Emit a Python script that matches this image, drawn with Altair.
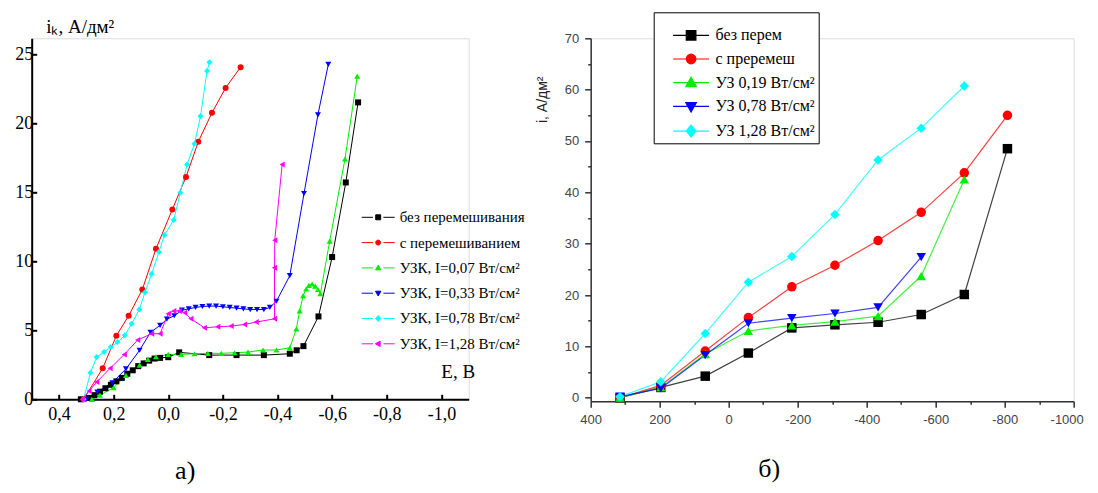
import altair as alt
import pandas as pd

SERIF = "'Liberation Serif', 'Times New Roman', serif"
SANS = "'Liberation Sans', Arial, sans-serif"

# ---------------- panel а) ----------------
L_NAMES = ["без перемешивания", "с перемешиванием", "УЗК, I=0,07 Вт/см²",
           "УЗК, I=0,33 Вт/см²", "УЗК, I=0,78 Вт/см²", "УЗК, I=1,28 Вт/см²"]
L_COLORS = ["#000000", "#ff0000", "#00ee00", "#0000ff", "#00ffff", "#ff00ff"]
L_SHAPES = ["square", "circle", "triangle-up", "triangle-down", "diamond", "triangle-left"]

a_black_x = [0.32, 0.29, 0.27, 0.25, 0.23, 0.21, 0.19, 0.17, 0.15, 0.13, 0.11, 0.09, 0.07,
             0.05, 0.03, 0.00, -0.04, -0.15, -0.25, -0.35, -0.445, -0.47, -0.495, -0.55,
             -0.60, -0.65, -0.695]
a_black_y = [0.0, 0.1, 0.3, 0.55, 0.8, 1.05, 1.3, 1.55, 1.85, 2.1, 2.4, 2.6, 2.8,
             2.95, 3.0, 3.05, 3.4, 3.2, 3.2, 3.2, 3.3, 3.55, 3.85, 6.0,
             10.3, 15.7, 21.5]

a_red_x = [0.31, 0.24, 0.19, 0.145, 0.095, 0.045, -0.015, -0.065, -0.11, -0.16, -0.21, -0.265]
a_red_y = [0.0, 2.25, 4.6, 6.05, 7.95, 10.9, 13.75, 16.1, 18.65, 20.75, 22.55, 24.05]

a_green_x = [0.28, 0.25, 0.20, 0.155, 0.105, 0.075, 0.045, 0.0, -0.047, -0.096, -0.145, -0.194,
             -0.243, -0.292, -0.347, -0.396, -0.445, -0.469, -0.481, -0.494, -0.505, -0.515,
             -0.527, -0.538, -0.548, -0.557, -0.591, -0.647, -0.692]
a_green_y = [0.0, 0.3, 0.84, 1.73, 2.48, 2.89, 3.08, 3.25, 3.25, 3.3, 3.33, 3.33,
             3.37, 3.42, 3.57, 3.57, 3.73, 5.1, 6.4, 7.5, 8.0, 8.25,
             8.35, 8.2, 7.95, 7.65, 11.45, 17.4, 23.4]

a_blue_x = [0.30, 0.26, 0.205, 0.155, 0.105, 0.065, 0.03, 0.005, -0.022, -0.05, -0.075, -0.10,
            -0.125, -0.15, -0.175, -0.20, -0.225, -0.25, -0.275, -0.30, -0.325, -0.35, -0.372,
            -0.396, -0.445, -0.497, -0.548, -0.586]
a_blue_y = [0.0, 0.53, 1.2, 2.2, 3.55, 4.85, 5.35, 5.8, 6.05, 6.45, 6.55, 6.65,
            6.72, 6.75, 6.75, 6.7, 6.65, 6.6, 6.55, 6.5, 6.5, 6.5, 6.65,
            7.1, 8.95, 14.9, 20.6, 24.25]

a_cyan_x = [0.31, 0.285, 0.262, 0.235, 0.21, 0.186, 0.159, 0.134, 0.106, 0.085, 0.061, 0.034,
            0.014, -0.02, -0.044, -0.069, -0.096, -0.118, -0.142, -0.151]
a_cyan_y = [0.0, 1.93, 3.06, 3.42, 3.78, 4.14, 4.63, 5.47, 6.5, 7.76, 9.08, 10.67,
            11.9, 12.98, 14.96, 17.0, 18.5, 20.5, 23.77, 24.4]

a_magenta_x = [0.315, 0.29, 0.262, 0.213, 0.161, 0.112, 0.061, 0.03, 0.0, -0.02, -0.04, -0.06,
               -0.083, -0.132, -0.181, -0.23, -0.279, -0.322, -0.389, -0.389, -0.39, -0.417]
a_magenta_y = [0.0, 0.6, 1.25, 2.24, 3.25, 4.29, 4.75, 4.75, 6.2, 6.4, 6.4, 6.27,
               5.83, 5.18, 5.25, 5.3, 5.42, 5.59, 5.83, 9.52, 11.52, 17.0]

A_TICKS_X = [0.4, 0.2, 0.0, -0.2, -0.4, -0.6, -0.8, -1.0]
A_TICKS_Y = [0, 5, 10, 15, 20, 25]

# ---------------- panel б) ----------------
R_NAMES = ["без перем", "с преремеш", "УЗ 0,19 Вт/см²", "УЗ 0,78 Вт/см²", "УЗ 1,28 Вт/см²"]
R_COLORS = ["#000000", "#ff0000", "#00ee00", "#0000ff", "#00ffff"]
R_SHAPES = ["square", "circle", "triangle-up", "triangle-down", "diamond"]

r_x = [315, 197, 68, -57, -183, -308, -433, -558, -683, -808]
r_black = [0.0, 2.0, 4.2, 8.7, 13.6, 14.2, 14.7, 16.2, 20.1, 48.5]
r_red = [0.0, 2.4, 9.1, 15.6, 21.6, 25.8, 30.6, 36.1, 43.8, 55.0]
r_green = [0.0, 2.0, 8.5, 13.0, 14.1, 14.8, 15.9, 23.7, 42.5]
r_blue = [0.2, 1.8, 8.3, 14.5, 15.5, 16.4, 17.6, 27.4]
r_cyan = [0.2, 3.1, 12.5, 22.5, 27.5, 35.7, 46.3, 52.5, 60.7]

B_TICKS_X = list(range(400, -1001, -100))
B_TICKS_Y = list(range(0, 71, 5))


def build(names, series):
    rows = []
    for name, (xs, ys) in zip(names, series):
        for i, (xv, yv) in enumerate(zip(xs, ys)):
            rows.append({"s": name, "x": xv, "y": yv, "i": i})
    return pd.DataFrame(rows)


df_a = build(L_NAMES, [(a_black_x, a_black_y), (a_red_x, a_red_y), (a_green_x, a_green_y),
                       (a_blue_x, a_blue_y), (a_cyan_x, a_cyan_y), (a_magenta_x, a_magenta_y)])
df_b = build(R_NAMES, [(r_x, r_black), (r_x, r_red), (r_x, r_green), (r_x, r_blue), (r_x, r_cyan)])


def legend_paths(h, gap):
    line = f"M-3,0H{-gap}M{gap},0H3" if gap else "M-3,0H3"
    t = round(h * 1.15, 3)
    w = round(h * 1.1, 3)
    b = round(h * 0.8, 3)
    return [
        line + f"M{-h},{-h}H{h}V{h}H{-h}Z",
        line + f"M{h},0A{h},{h} 0 1,1 {-h},0A{h},{h} 0 1,1 {h},0Z",
        line + f"M0,{-t}L{w},{b}L{-w},{b}Z",
        line + f"M0,{t}L{w},{-b}L{-w},{-b}Z",
        line + f"M0,{-round(h*1.25,3)}L{h},0L0,{round(h*1.25,3)}L{-h},0Z",
        line + f"M{-t},0L{b},{-w}L{b},{w}Z",
    ]


# ---------------- chart а) ----------------
W_A, H_A = 437, 361
xa = alt.X("x:Q", scale=alt.Scale(domain=[0.5, -1.1], nice=False, zero=False),
           axis=alt.Axis(values=A_TICKS_X,
                         labelExpr="(datum.value < 0 ? '-' : '') + replace(format(abs(datum.value), '.1f'), '.', ',')",
                         title="E, В", titleX=426, titleY=-22, titleAngle=0, titleAlign="center",
                         titleBaseline="alphabetic", titleFont=SERIF, titleFontSize=19,
                         titleFontWeight="normal", titleColor="black",
                         labelFont=SERIF, labelFontSize=18, labelColor="black", labelPadding=11,
                         labelFlush=False, labelOverlap=False,
                         tickSize=alt.ExprRef(expr="-5"), tickWidth=2, tickColor="black",
                         domainColor="black", domainWidth=2, grid=False))
ya = alt.Y("y:Q", scale=alt.Scale(domain=[0, 26.14], nice=False, zero=False),
           axis=alt.Axis(values=A_TICKS_Y, format="d",
                         title="iₖ, А/дм²", titleX=14, titleY=-6, titleAngle=0, titleAlign="left",
                         titleBaseline="alphabetic", titleFont=SERIF, titleFontSize=19,
                         titleFontWeight="normal", titleColor="black",
                         labelFont=SERIF, labelFontSize=18, labelColor="black", labelPadding=4,
                         labelOverlap=False,
                         tickSize=alt.ExprRef(expr="-5"), tickWidth=2, tickColor="black",
                         domainColor="black", domainWidth=2, grid=False))

col_a = alt.Color("s:N", scale=alt.Scale(domain=L_NAMES, range=L_COLORS), legend=None)
base_a = alt.Chart(df_a)
lines_a = base_a.mark_line(strokeWidth=1).encode(x=xa, y=ya, color=col_a, order="i:Q")
points_a = base_a.mark_point(filled=True, size=36, opacity=1).encode(
    x=xa, y=ya, color=col_a,
    shape=alt.Shape("s:N", scale=alt.Scale(domain=L_NAMES, range=L_SHAPES), legend=None))

leg_a = alt.Legend(orient="none", legendX=327, legendY=171.5, title=None,
                   labelFont=SERIF, labelFontSize=15, labelColor="black", labelLimit=300,
                   symbolSize=121, symbolStrokeWidth=1, symbolOffset=12, labelOffset=14,
                   symbolFillColor="white", symbolStrokeColor="white", symbolOpacity=1,
                   rowPadding=9.3, padding=0)
legend_a = base_a.transform_filter("false").mark_point(filled=False, opacity=1, strokeWidth=1).encode(
    x=xa, y=ya,
    stroke=alt.Stroke("s:N", scale=alt.Scale(domain=L_NAMES, range=L_COLORS), legend=leg_a),
    fill=alt.Fill("s:N", scale=alt.Scale(domain=L_NAMES, range=L_COLORS), legend=leg_a),
    shape=alt.Shape("s:N", scale=alt.Scale(domain=L_NAMES, range=legend_paths(0.45, 0.95)), legend=leg_a))

chart_a = alt.layer(lines_a, points_a, legend_a).resolve_scale(
    shape="independent", fill="independent", stroke="independent").properties(
    width=W_A, height=H_A,
    title=alt.TitleParams("а)", orient="bottom", anchor="middle", font=SERIF, fontSize=26,
                          fontWeight="normal", color="black", offset=35, dx=-65))

# ---------------- chart б) ----------------
W_B, H_B = 483, 363
minor_x = "datum.value % 200 == 0"
minor_y = "datum.value % 10 == 0"
xb = alt.X("x:Q", scale=alt.Scale(domain=[400, -1000], nice=False, zero=False),
           axis=alt.Axis(values=B_TICKS_X,
                         labelExpr=f"{minor_x} ? (datum.value < 0 ? '-' + abs(datum.value) : '' + datum.value) : ''",
                         title=None, labelFont=SANS, labelFontSize=13, labelColor="#444",
                         labelPadding=6, labelFlush=False, labelOverlap=False,
                         labelOffset={"condition": {"test": "datum.value == -1000", "value": -7}, "value": 0},
                         tickSize={"condition": {"test": minor_x, "value": 6}, "value": 3},
                         tickWidth=1.5, tickColor="#333", domainColor="#333", domainWidth=1.5,
                         grid=False))
yb = alt.Y("y:Q", scale=alt.Scale(domain=[-0.7, 70], nice=False, zero=False),
           axis=alt.Axis(values=B_TICKS_Y,
                         labelExpr=f"{minor_y} ? '' + datum.value : ''",
                         title="i, А/дм²", titleX=-48, titleY=61, titleAlign="center",
                         titleBaseline="middle", titleFont=SANS, titleFontSize=14,
                         titleFontWeight="normal", titleColor="#222",
                         labelFont=SANS, labelFontSize=13, labelColor="#444", labelPadding=6,
                         labelOverlap=False,
                         tickSize={"condition": {"test": minor_y, "value": 6}, "value": 3},
                         tickWidth=1.5, tickColor="#333", domainColor="#333", domainWidth=1.5,
                         grid=False))

col_b = alt.Color("s:N", scale=alt.Scale(domain=R_NAMES, range=R_COLORS), legend=None)
base_b = alt.Chart(df_b)
lines_b = base_b.mark_line(strokeWidth=1.2, opacity=0.75).encode(x=xb, y=yb, color=col_b, order="i:Q")
points_b = base_b.mark_point(filled=True, size=90, opacity=1).encode(
    x=xb, y=yb, color=col_b,
    shape=alt.Shape("s:N", scale=alt.Scale(domain=R_NAMES, range=R_SHAPES), legend=None))

leg_b = alt.Legend(orient="none", legendX=63, legendY=-26, title="\u00a0" * 60, titleFontSize=11,
                   titlePadding=1,
                   labelFont=SERIF, labelFontSize=16, labelColor="black", labelLimit=300,
                   symbolSize=144, symbolStrokeWidth=1.2, symbolOffset=26.4, labelOffset=16.4,
                   symbolFillColor="white", symbolStrokeColor="white", symbolOpacity=1,
                   rowPadding=7.7, padding=3, strokeColor="black", fillColor="white")
legend_b = base_b.transform_filter("false").mark_point(filled=False, opacity=1, strokeWidth=1.2).encode(
    x=xb, y=yb,
    stroke=alt.Stroke("s:N", scale=alt.Scale(domain=R_NAMES, range=R_COLORS), legend=leg_b),
    fill=alt.Fill("s:N", scale=alt.Scale(domain=R_NAMES, range=R_COLORS), legend=leg_b),
    shape=alt.Shape("s:N", scale=alt.Scale(domain=R_NAMES, range=legend_paths(0.8, None)[:5]), legend=leg_b))

chart_b = alt.layer(lines_b, points_b, legend_b).resolve_scale(
    shape="independent", fill="independent", stroke="independent").properties(
    width=W_B, height=H_B,
    title=alt.TitleParams("б)", orient="bottom", anchor="middle", font=SERIF, fontSize=26,
                          fontWeight="normal", color="black", offset=30, dx=-63))

chart = alt.hconcat(chart_a, chart_b, spacing=8).resolve_scale(
    color="independent", shape="independent", fill="independent", stroke="independent"
).resolve_legend(color="independent", shape="independent", fill="independent", stroke="independent"
).properties(padding={"left": 5.7, "top": 3.3, "right": 0, "bottom": 0}
).configure_view(stroke=None).configure(background="white")

chart.save("out.html", embed_options={"renderer": "svg", "actions": False})
